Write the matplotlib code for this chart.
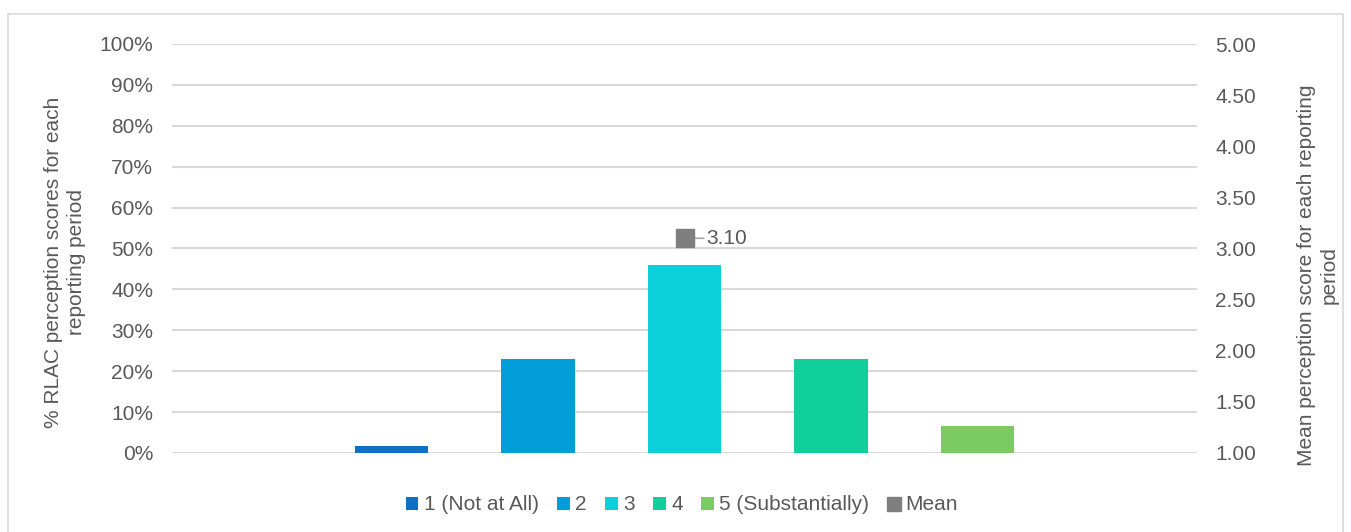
import numpy as np
import matplotlib.pyplot as plt
from matplotlib.patches import Rectangle
from matplotlib.ticker import PercentFormatter, FormatStrFormatter

plt.rcParams['font.family'] = ['Liberation Sans', 'DejaVu Sans']

# data
score_labels = ['1 (Not at All)', '2', '3', '4', '5 (Substantially)']
score_shares = [1.7, 23.0, 46.0, 23.0, 6.6]
mean_score = 3.10
bar_colors = ['#0F6FC6', '#009DD9', '#0BD0D9', '#10CF9B', '#7CCA62']
mean_color = '#7F7F7F'
text_color = '#595959'
grid_color = '#D9D9D9'

W, H = 1351, 532
fig = plt.figure(figsize=(W / 100, H / 100), dpi=100)
fig.patches.append(Rectangle((8 / W, -0.05), 1335 / W, 1 - 14 / H + 0.05,
                             transform=fig.transFigure, fill=False,
                             edgecolor='#D9D9D9', linewidth=1.2))

ax = fig.add_axes([172 / W, 1 - 453 / H, 1025 / W, 409 / H])
ax2 = ax.twinx()

positions = np.arange(len(score_shares)) - (len(score_shares) - 1) / 2
handles = []
for pos, share, color, label in zip(positions, score_shares, bar_colors, score_labels):
    b = ax.bar(pos, share, width=0.5, color=color, label=label, zorder=3)
    handles.append(b)

mean_line, = ax2.plot([0], [mean_score], marker='s', markersize=13.5, linestyle='none',
                      color=mean_color, label='Mean', zorder=4)
handles.append(mean_line)
ax2.annotate(f'{mean_score:.2f}', xy=(0.0, mean_score), xytext=(0.15, mean_score),
             va='center', ha='left', fontsize=15, color=text_color, zorder=3,
             arrowprops=dict(arrowstyle='-', color='#A6A6A6', lw=1.2,
                             shrinkA=0, shrinkB=1))

ax.set_xlim(-3.5, 3.5)
ax.set_ylim(0, 100)
ax.set_yticks(np.arange(0, 101, 10))
ax.yaxis.set_major_formatter(PercentFormatter(decimals=0))
ax2.set_ylim(1, 5)
ax2.set_yticks(np.arange(1, 5.01, 0.5))
ax2.yaxis.set_major_formatter(FormatStrFormatter('%.2f'))

ax.grid(axis='y', color=grid_color, linewidth=1.5, zorder=0)
ax.set_axisbelow(True)
ax.set_xticks([])
for a in (ax, ax2):
    for s in a.spines.values():
        s.set_visible(False)
    a.tick_params(axis='y', length=0, labelsize=15, labelcolor=text_color)
ax.tick_params(axis='y', pad=13.5)
ax2.tick_params(axis='y', pad=13)

fig.text(65 / W, 1 - 262 / H, '% RLAC perception scores for each\nreporting period',
         rotation=90, ha='center', va='center', multialignment='center',
         fontsize=15, color=text_color, linespacing=1.2)
fig.text(1318 / W, 1 - 275 / H, 'Mean perception score for each reporting\nperiod',
         rotation=90, ha='center', va='center', multialignment='center',
         fontsize=15, color=text_color, linespacing=1.25)

fig.legend(handles=handles, labels=score_labels + ['Mean'], loc='center',
           bbox_to_anchor=(682 / W, 1 - 505 / H), ncol=6, frameon=False,
           fontsize=15, labelcolor=text_color, handlelength=0.6, handleheight=0.6,
           handletextpad=0.25, columnspacing=0.9, markerscale=0.75)

fig.savefig('out.png', dpi=100)
